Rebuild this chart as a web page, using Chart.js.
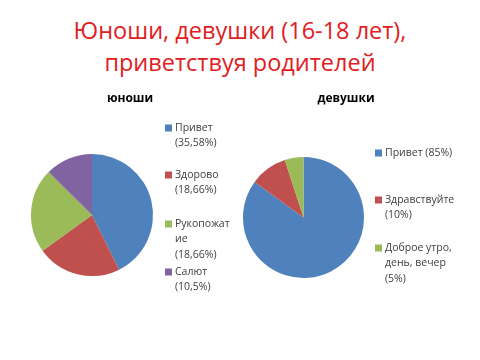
<!DOCTYPE html>
<html>
<head>
<meta charset="utf-8">
<script src="https://cdn.jsdelivr.net/npm/chart.js@4"></script>
<style>
  body { margin: 0; background: #fff; width: 480px; height: 360px; position: relative; overflow: hidden; }
  #title { position: absolute; left: 0; top: 14px; width: 480px; text-align: center;
           font-family: "Open Sans", "Liberation Sans", sans-serif; font-size: 23.5px; line-height: 32px; color: #e0201e; }
  canvas { position: absolute; top: 85px; }
  #boys { left: 0; }
  #girls { left: 240px; }
</style>
</head>
<body>
<div id="title">Юноши, девушки (16-18 лет),<br>приветствуя родителей</div>
<canvas id="boys" width="240" height="230"></canvas>
<canvas id="girls" width="240" height="230"></canvas>
<script>
const boysLabels = ["Привет", "Здорово", "Рукопожатие", "Салют"];
const boysValues = [35.58, 18.66, 18.66, 10.5];
const girlsLabels = ["Привет", "Здравствуйте", "Доброе утро, день, вечер"];
const girlsValues = [85, 10, 5];
const colors = ["#4f81bd", "#c0504d", "#9bbb59", "#8064a2"];

const legendFont = '10.5px "Open Sans", "Liberation Sans", sans-serif';

// wrap by words, and break a word by letters if it still doesn't fit
function wrap(ctx, text, maxWidth) {
  const lines = [];
  let line = "";
  for (const word of text.split(" ")) {
    let test = line ? line + " " + word : word;
    if (ctx.measureText(test).width <= maxWidth) {
      line = test;
      continue;
    }
    if (line) lines.push(line);
    line = "";
    let rest = word;
    while (ctx.measureText(rest).width > maxWidth) {
      let n = rest.length;
      while (n > 1 && ctx.measureText(rest.slice(0, n)).width > maxWidth) n--;
      lines.push(rest.slice(0, n));
      rest = rest.slice(n);
    }
    line = rest;
  }
  if (line) lines.push(line);
  return lines;
}

const sideLegend = {
  id: "sideLegend",
  afterDraw(chart, args, opts) {
    const ctx = chart.ctx;
    ctx.save();
    ctx.font = 'bold 12px "Open Sans", "Liberation Sans", sans-serif';
    ctx.fillStyle = "#000";
    ctx.textAlign = "center";
    ctx.textBaseline = "middle";
    ctx.fillText(opts.title, opts.titleX, 14);

    ctx.font = legendFont;
    ctx.textAlign = "left";
    const labels = chart.data.labels;
    const values = chart.data.datasets[0].data;
    labels.forEach((label, i) => {
      const y = opts.rows[i];
      ctx.fillStyle = colors[i];
      ctx.fillRect(opts.x, y - 3.5, 7, 7);
      ctx.fillStyle = "#404040";
      const text = label + " (" + String(values[i]).replace(".", ",") + "%)";
      wrap(ctx, text, opts.maxWidth).forEach((line, j) => {
        ctx.fillText(line, opts.x + 10, y + j * 15.5);
      });
    });
    ctx.restore();
  }
};

function pie(id, labels, values, padding, legend) {
  new Chart(document.getElementById(id), {
    type: "pie",
    data: {
      labels: labels,
      datasets: [{ data: values, backgroundColor: colors.slice(0, values.length), borderWidth: 0 }],
    },
    options: {
      responsive: false,
      animation: false,
      layout: { padding: padding },
      plugins: {
        legend: { display: false },
        tooltip: { enabled: false },
        sideLegend: legend,
      },
    },
    plugins: [sideLegend],
  });
}

pie("boys", boysLabels, boysValues,
  { left: 31, right: 87, top: 69, bottom: 39 },
  { title: "юноши", titleX: 130, x: 165, rows: [43, 90, 139, 187], maxWidth: 56 });

pie("girls", girlsLabels, girlsValues,
  { left: 3, right: 116, top: 72, bottom: 37 },
  { title: "девушки", titleX: 106, x: 135, rows: [68, 115, 163], maxWidth: 80 });
</script>
</body>
</html>
